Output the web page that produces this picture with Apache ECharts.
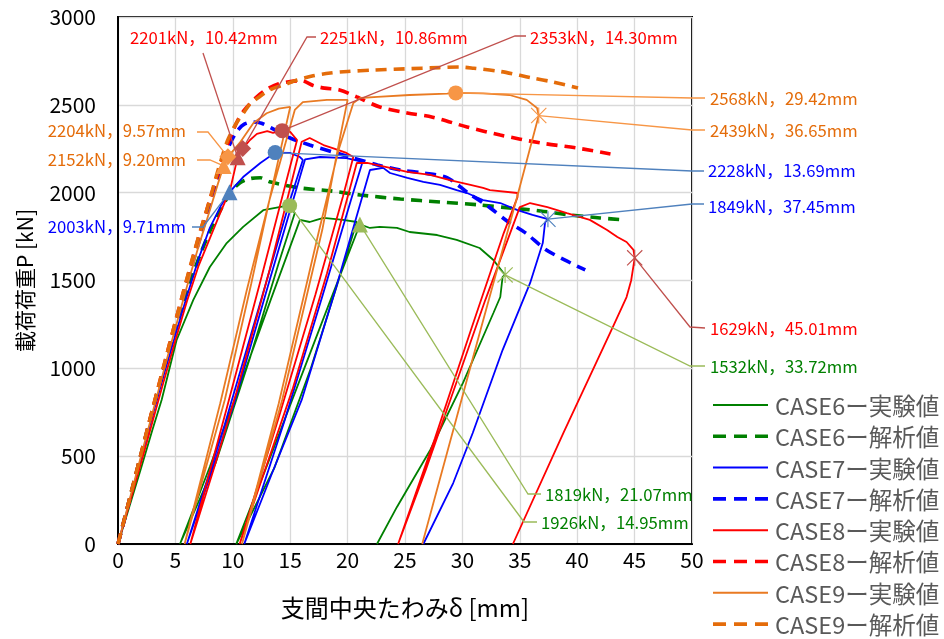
<!DOCTYPE html>
<html>
<head>
<meta charset="utf-8">
<script src="https://cdn.jsdelivr.net/npm/echarts/dist/echarts.min.js"></script>
<style>
html,body{margin:0;padding:0;background:#fff}
#chart{width:944px;height:639px}
</style>
</head>
<body>
<div id="chart"></div>
<script>
// Load-deflection records [deflection mm, load kN]
const case6Exp = [
  [0,0],[1,215],[2,430],[3,650],[3.8,820],[5.1,1160],[6.56,1390],[8.0,1577],[9.47,1713],[10.9,1805],[12.65,1900],[14.4,1922],[14.95,1926],[15.4,1884],
  [14.0,1600],[11.5,1060],[8.5,460],[5.4,0],
  [8.0,440],[10.6,900],[13.3,1390],[15.85,1845],
  [16.7,1833],[17.3,1845],[17.9,1856],[19.6,1845],[20.8,1833],
  [19.4,1540],[16.8,1000],[13.6,430],[10.3,0],
  [13.0,450],[15.7,910],[18.4,1370],[21.07,1819],
  [21.95,1799],[22.8,1805],[24.3,1799],[25.4,1776],[27.8,1759],[29.5,1731],[31.5,1685],[32.7,1617],[33.5,1549],[33.72,1532],
  [33.5,1520],[33.3,1406],[32.7,1315],[30.05,917],[27.2,535],[24.3,211],[22.56,0]
];
const case6Ana = [
  [0,0],[1,255],[2,510],[3,760],[4,1000],[5,1240],[6,1440],[7,1620],[8,1780],[9,1910],[9.8,2000],[10.6,2055],[11.5,2080],[12.4,2085],[13.2,2062],
  [15.85,2027],[18.5,2010],[21.1,1987],[24.6,1964],[28.05,1947],[31.5,1930],[34.1,1913],[36.8,1896],[39.4,1873],[42,1856],[44.2,1845]
];
const case7Exp = [
  [0,0],[1,240],[2,485],[3,730],[4,965],[5,1190],[6,1410],[7,1620],[8,1800],[9,1930],[9.71,2003],[10.9,2089],[12.4,2169],[13.69,2228],[15.0,2226],[15.85,2203],[16.1,2186],
  [15.0,1960],[12.6,1420],[9.3,680],[6.0,0],
  [8.2,420],[10.2,820],[13.2,1500],[16.3,2190],
  [17.6,2203],[19.9,2197],[21.3,2175],
  [20.3,1960],[17.8,1410],[14.5,700],[11.0,0],
  [13.4,400],[16.0,820],[19.0,1460],[21.95,2129],
  [23.1,2141],[23.7,2112],[25.2,2084],[26.6,2061],[28.05,2044],[29.5,2015],[30.4,1998],[31.8,1958],[33.3,1941],[34.8,1901],[36.1,1873],[37.45,1849],
  [37.2,1830],[37.0,1713],[35.9,1486],[33.5,1104],[30.9,632],[29.2,347],[26.6,0]
];
const case7Ana = [
  [0,0],[1,250],[2,500],[3,750],[4,995],[5,1240],[6,1480],[7,1710],[8,1930],[9,2140],[9.5,2240],[10,2310],[10.5,2360],[11,2390],[11.7,2402],[12.5,2395],[13.3,2370],[14,2345],
  [15,2311],[16.7,2271],[18.7,2232],[20.5,2197],[22.6,2158],[24.6,2129],[26.6,2112],[28.7,2084],[30.5,1998],[32.2,1924],[34,1833],[35.5,1771],[37.2,1679],[38.9,1617],[40.7,1560]
];
const case8Exp = [
  [0,0],[1,230],[2,460],[3,695],[4,930],[5,1160],[6,1380],[7,1580],[8,1740],[8.9,1884],[9.76,2015],[10.42,2201],[10.86,2251],[11.5,2300],[12.1,2335],[13.0,2350],[13.5,2340],[14.3,2353],[15.0,2346],[15.6,2300],
  [14.8,2100],[12.5,1520],[9.5,780],[6.3,0],
  [8.4,440],[10.3,860],[13.2,1560],[16.0,2290],
  [16.7,2311],[17.9,2271],[18.7,2254],[19.9,2226],[20.5,2203],
  [19.6,1980],[17.2,1420],[14.0,720],[10.6,0],
  [12.8,420],[15.2,880],[18.2,1540],[20.8,2169],
  [21.7,2169],[23.4,2146],[25.2,2118],[27.2,2101],[28.9,2072],[30.7,2044],[31.8,2027],[32.4,2015],[34.8,1998],[34.8,1975],
  [33.6,1770],[30.8,1230],[27.6,600],[24.4,0],
  [26.8,420],[29.0,830],[32.0,1390],[35.0,1918],
  [35.9,1941],[37.4,1918],[39.1,1884],[41.1,1845],[42.6,1788],[43.5,1748],[44.3,1719],[44.9,1674],[45.01,1629],
  [44.7,1500],[44.3,1406],[43.1,1235],[38.8,632],[34.4,0]
];
const case8Ana = [
  [0,0],[1,255],[2,510],[3,765],[4,1015],[5,1265],[6,1505],[7,1740],[8,1960],[9,2170],[9.5,2270],[10,2350],[10.5,2420],[11,2470],[12,2540],[13,2590],[14,2620],[15,2632],[16,2638],
  [17,2610],[18,2595],[19.3,2585],[20.8,2545],[22.8,2488],[25.2,2454],[27.4,2430],[30.4,2374],[33.3,2328],[36.8,2283],[40,2254],[42.9,2220]
];
const case9Exp = [
  [0,0],[1,250],[2,500],[3,745],[4,990],[5,1230],[6,1465],[7,1690],[8,1900],[8.7,2050],[9.20,2152],[9.57,2204],[10.6,2283],[11.8,2397],[12.95,2452],[14.0,2478],[15.0,2488],
  [13.6,2080],[11.6,1480],[9.3,820],[5.8,0],
  [8.9,800],[11.2,1440],[13.2,1960],[15.4,2471],
  [16.1,2516],[18.2,2528],[20.0,2528],
  [19.3,2300],[17.8,1790],[14.3,820],[10.8,0],
  [14.0,800],[17.5,1780],[19.2,2240],[20.5,2511],
  [21.1,2539],[22.6,2545],[25.4,2556],[28.66,2564],[29.42,2568],[31.8,2565],[34.1,2556],[35.6,2528],[36.5,2482],[36.65,2439],
  [34.7,1960],[31.5,1200],[29.5,720],[26.5,0]
];
const case9Ana = [
  [0,0],[1,255],[2,510],[3,765],[4,1015],[5,1265],[6,1510],[7,1745],[8,1960],[8.5,2080],[9,2190],[9.5,2290],[10,2360],[10.5,2415],[11,2460],[11.5,2505],[12.2,2540],[13.2,2585],
  [14.5,2615],[15.6,2641],[17,2665],[18.5,2681],[20,2690],[22.2,2698],[25,2705],[28,2712],[29.8,2715],[31,2708],[33.3,2690],[35,2668],[36.1,2653],[37.9,2630],[40.07,2596]
];

// Characteristic points of each test [deflection mm, load kN]
const points6 = [[14.95,1926],[21.07,1819],[33.72,1532]];
const points7 = [[9.71,2003],[13.69,2228],[37.45,1849]];
const points8 = [[10.42,2201],[10.86,2251],[14.30,2353],[45.01,1629]];
const points9 = [[9.20,2152],[9.57,2204],[29.42,2568],[36.65,2439]];

const seriesNames = [
  'CASE6ー実験値','CASE6ー解析値','CASE7ー実験値','CASE7ー解析値',
  'CASE8ー実験値','CASE8ー解析値','CASE9ー実験値','CASE9ー解析値'
];

const FONT = "'Noto Sans CJK JP', 'Noto Sans', sans-serif";
const ASTER = 'path://M1,0 L10,9 L19,0 L20,1 L11,10 L20,19 L19,20 L10,11 L1,20 L0,19 L9,10 L0,1 Z M9.3,0 L10.7,0 L10.7,20 L9.3,20 Z';

// marker shape, label placement and leader elbows for each characteristic point
const style6 = { marker:'#9BBB59', text:'#008000', shapes:['circle','triangle',ASTER],
  labels:[ {x:541,y:523,align:'left',elbow:[[524,522],[537,522]]},
           {x:545,y:495,align:'left',elbow:[[528,494],[541,494]]},
           {x:710,y:367,align:'left',elbow:[[690,366],[705,366]]} ] };
const style7 = { marker:'#4F81BD', text:'#0000FF', shapes:['triangle','circle',ASTER],
  labels:[ {x:186,y:227,align:'right',elbow:[[203,227],[192,227]]},
           {x:708,y:171,align:'left',elbow:[[692,171],[704,171]]},
           {x:708,y:207,align:'left',elbow:[[692,204],[704,204]]} ] };
const style8 = { marker:'#C0504D', text:'#FF0000', shapes:['triangle','diamond','circle',ASTER],
  labels:[ {x:130,y:38,align:'left',elbow:[[203,53]]},
           {x:320,y:38,align:'left',elbow:[[307,37],[316,37]]},
           {x:530,y:38,align:'left',elbow:[[515,36],[526,36]]},
           {x:710,y:329,align:'left',elbow:[[690,327],[705,328]]} ] };
const style9 = { marker:'#F79646', text:'#E46C0A', shapes:['triangle','diamond','circle',ASTER],
  labels:[ {x:186,y:160,align:'right',elbow:[[210,160],[197,160]]},
           {x:186,y:131,align:'right',elbow:[[208,132],[197,132]]},
           {x:710,y:99,align:'left',elbow:[[692,98],[705,98]]},
           {x:710,y:131,align:'left',elbow:[[692,130],[705,130]]} ] };

const groups = [
  {pts:points6, st:style6}, {pts:points7, st:style7},
  {pts:points8, st:style8}, {pts:points9, st:style9}
];

const lineColors = ['#008000','#008000','#0000FF','#0000FF','#FF0000','#FF0000','#E97A22','#E46C0A'];
const lineData = [case6Exp, case6Ana, case7Exp, case7Ana, case8Exp, case8Ana, case9Exp, case9Ana];
const EXP_W = 1.8, ANA_W = 3.6, ANA_DASH = [11, 7];

const series = lineData.map((d, i) => {
  const dashed = i % 2 === 1;
  return {
    name: seriesNames[i],
    type: 'line',
    data: d,
    symbol: 'none',
    smooth: dashed ? 0.3 : false,
    lineStyle: dashed
      ? { color: lineColors[i], width: ANA_W, type: ANA_DASH }
      : { color: lineColors[i], width: EXP_W },
    itemStyle: { color: lineColors[i] },
    z: 2 + i,
    animation: false
  };
});

groups.forEach(g => {
  series.push({
    type: 'scatter',
    data: g.pts.map((p, k) => ({ value: p, symbol: g.st.shapes[k] })),
    symbolSize: (v, params) => {
      const s = g.st.shapes[params.dataIndex];
      return s === 'circle' ? 15 : (s === 'diamond' ? 17 : 16);
    },
    itemStyle: { color: g.st.marker, opacity: 1 },
    z: 20,
    animation: false
  });
});

// legend drawn as line samples with their captions
const legendGraphics = [];
seriesNames.forEach((name, i) => {
  const y = 405 + i * 31.3;
  const dashed = i % 2 === 1;
  legendGraphics.push({
    type: 'line', silent: true,
    shape: { x1: 713, y1: y, x2: 768, y2: y },
    style: dashed
      ? { stroke: lineColors[i], lineWidth: ANA_W, lineDash: [13, 8] }
      : { stroke: lineColors[i], lineWidth: EXP_W + 0.2 }
  });
  legendGraphics.push({
    type: 'text', silent: true,
    style: {
      text: name, x: 775, y: y + 1,
      fill: '#595959', font: '23.5px ' + FONT,
      align: 'left', verticalAlign: 'middle',
      textAlign: 'left', textVerticalAlign: 'middle'
    }
  });
});

const chart = echarts.init(document.getElementById('chart'), null, { renderer: 'canvas' });
chart.setOption({
  animation: false,
  backgroundColor: '#fff',
  textStyle: { fontFamily: FONT },
  grid: { left: 118, right: 252, top: 17, bottom: 95, show: true, borderColor: '#000', borderWidth: 2, backgroundColor: 'transparent' },
  xAxis: {
    type: 'value', min: 0, max: 50, interval: 5,
    name: '支間中央たわみδ [mm]', nameLocation: 'middle', nameGap: 52,
    nameTextStyle: { fontSize: 24, color: '#000', fontFamily: FONT },
    axisLine: { show: true, onZero: false, lineStyle: { color: '#000', width: 2 } },
    axisTick: { show: false },
    axisLabel: { fontSize: 21, color: '#000', margin: 6, fontFamily: FONT, formatter: v => String(v) },
    splitLine: { show: true, lineStyle: { color: '#D9D9D9', width: 1.3 } }
  },
  yAxis: {
    type: 'value', min: 0, max: 3000, interval: 500,
    name: '載荷荷重P [kN]', nameLocation: 'middle', nameGap: 82, nameRotate: 90,
    nameTextStyle: { fontSize: 21, color: '#000', fontFamily: FONT },
    axisLine: { show: true, lineStyle: { color: '#000', width: 2 } },
    axisTick: { show: false },
    axisLabel: { fontSize: 21, color: '#000', margin: 22, fontFamily: FONT, formatter: v => String(v) },
    splitLine: { show: true, lineStyle: { color: '#D9D9D9', width: 1.3 } }
  },
  series: series
});

// leader lines and value labels for the characteristic points
const fmt = p => p[1] + 'kN，' + p[0].toFixed(2) + 'mm';
const graphics = legendGraphics.slice();
groups.forEach(g => {
  g.pts.forEach((p, k) => {
    const lab = g.st.labels[k];
    const px = chart.convertToPixel({ gridIndex: 0 }, p);
    graphics.push({
      type: 'polyline', silent: true, z: 15,
      shape: { points: [px].concat(lab.elbow) },
      style: { stroke: g.st.marker, lineWidth: 1.3, fill: null }
    });
    graphics.push({
      type: 'text', silent: true, z: 30,
      style: {
        text: fmt(p), x: lab.x, y: lab.y,
        fill: g.st.text, font: '16.7px ' + FONT,
        align: lab.align, verticalAlign: 'middle',
        textAlign: lab.align, textVerticalAlign: 'middle'
      }
    });
  });
});
chart.setOption({ graphic: graphics });
</script>
</body>
</html>
